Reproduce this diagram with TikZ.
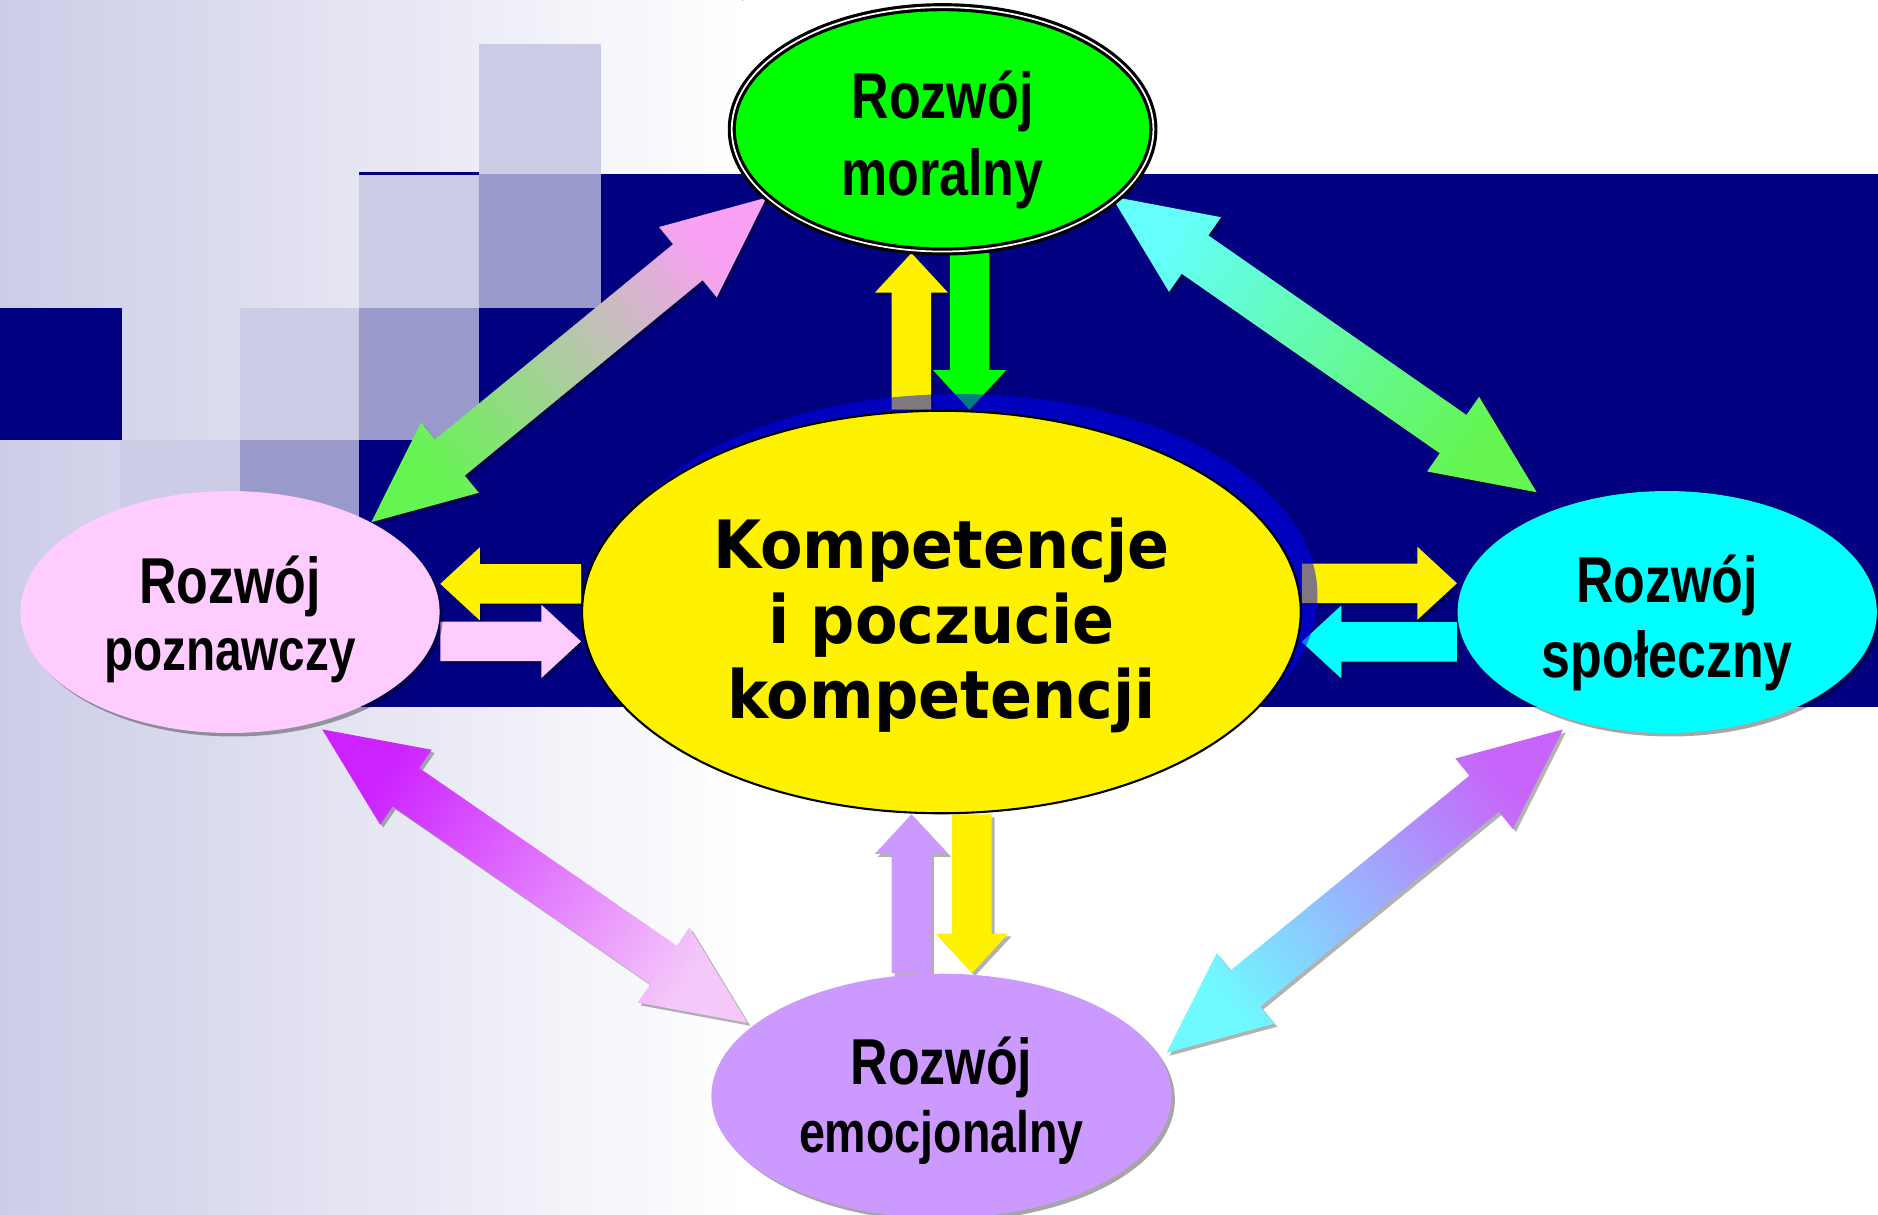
\documentclass[tikz,border=0pt]{standalone}
\usepackage{fontspec}
\newfontfamily\labelfont[FakeStretch=0.8]{Liberation Sans}
\newfontfamily\corefont[FakeStretch=0.93]{DejaVu Sans}
\usetikzlibrary{positioning,shapes,calc,shadows}

\definecolor{haze}{RGB}{204,204,232}
\definecolor{tile}{RGB}{204,204,230}
\definecolor{tiledark}{RGB}{153,153,204}
\definecolor{navy}{RGB}{0,0,128}
\definecolor{moralfill}{RGB}{0,255,0}
\definecolor{cognfill}{RGB}{255,204,255}
\definecolor{socfill}{RGB}{0,255,255}
\definecolor{emofill}{RGB}{204,153,255}
\definecolor{pinktop}{RGB}{250,160,245}
\definecolor{greenend}{RGB}{100,245,80}
\definecolor{cyantop}{RGB}{100,255,250}
\definecolor{magtop}{RGB}{204,34,255}
\definecolor{pinkend}{RGB}{245,200,250}
\definecolor{purptop}{RGB}{200,100,250}
\definecolor{cyanend}{RGB}{110,250,255}

\pgfdeclarelayer{back}
\pgfdeclarelayer{arrows}
\pgfsetlayers{back,arrows,main}

% fat double arrow between two points
\newcommand{\twoway}[3]{%
  \path[#1] (#2) -- ($(#2)!10.2mm!(#3)!4.56mm!90:(#3)$) -- ($(#2)!10.2mm!(#3)!2.34mm!90:(#3)$)
    -- ($(#3)!10.2mm!(#2)!2.34mm!-90:(#2)$) -- ($(#3)!10.2mm!(#2)!4.56mm!-90:(#2)$) -- (#3)
    -- ($(#3)!10.2mm!(#2)!4.56mm!90:(#2)$) -- ($(#3)!10.2mm!(#2)!2.34mm!90:(#2)$)
    -- ($(#2)!10.2mm!(#3)!2.34mm!-90:(#3)$) -- ($(#2)!10.2mm!(#3)!4.56mm!-90:(#3)$) -- cycle;}
% small block arrow, tail to tip
\newcommand{\oneway}[3]{%
  \path[#1] ($(#2)!1.98mm!90:(#3)$) -- ($(#3)!3.96mm!(#2)!1.98mm!-90:(#2)$)
    -- ($(#3)!3.96mm!(#2)!3.66mm!-90:(#2)$) -- (#3) -- ($(#3)!3.96mm!(#2)!3.66mm!90:(#2)$)
    -- ($(#3)!3.96mm!(#2)!1.98mm!90:(#2)$) -- ($(#2)!1.98mm!-90:(#3)$) -- cycle;}

\begin{document}
\begin{tikzpicture}[x=0.12mm, y=-0.12mm,
    outer/.style={ellipse, inner sep=0pt, minimum width=42mm, minimum height=24.24mm},
    glow/.style={drop shadow={shadow xshift=0.35mm, shadow yshift=-0.35mm, opacity=0.35, fill=black}},
    core/.style={ellipse, inner sep=0pt, minimum width=72mm, minimum height=40.32mm,
      fill=yellow, draw=black, line width=0.6pt},
    words/.style={inner sep=0pt, align=center, font=\labelfont\bfseries\fontsize{18.5}{#1}\selectfont},
    edgeshadow/.style={preaction={fill=black, fill opacity=0.3, transform canvas={shift={(0.3mm,-0.3mm)}}}},
    smallarrow/.style={edgeshadow, fill=#1},
    pmshade/.style={edgeshadow, top color=pinktop, bottom color=greenend, shading angle=-50.5},
    msshade/.style={edgeshadow, top color=cyantop, bottom color=greenend, shading angle=55.2},
    peshade/.style={edgeshadow, top color=magtop, bottom color=pinkend, shading angle=55.8},
    seshade/.style={edgeshadow, top color=purptop, bottom color=cyanend, shading angle=-50.9}
  ]
  \useasboundingbox (0,0) rectangle (1568,1014);

  % ellipses
  \node[core] (cen) at (786,511) {};
  \node[outer, fill=moralfill, draw=black, line width=0.9pt, double=white, double distance=0.5pt,
    minimum width=42.24mm, minimum height=24.48mm] (mor) at (787,108) {};
  \node[outer, glow, fill=cognfill] (poz) at (192,511) {};
  \node[outer, glow, fill=socfill] (spo) at (1392,511) {};
  \node[outer, glow, fill=emofill, minimum width=46.08mm, minimum height=24.48mm] (emo) at (786,915) {};

  % texts
  \node[inner sep=0pt, align=center, font=\corefont\bfseries\fontsize{19}{21.4}\selectfont] (centext)
    at ($(cen.center)+(0,11)$) {Kompetencje\\i poczucie\\kompetencji};
  \node[words=22] (mortext) at ($(mor.center)+(0,8.5)$) {Rozwój\\moralny};
  \node[words=19.2] (poztext) at ($(poz.center)+(0,6)$) {Rozwój\\{\fontsize{17}{19.2}\selectfont poznawczy}};
  \node[words=21.4] (spotext) at ($(spo.center)+(0,9)$) {Rozwój\\społeczny};
  \node[words=19.2] (emotext) at ($(emo.center)+(0,4)$) {Rozwój\\{\fontsize{16.6}{19.2}\selectfont emocjonalny}};

  % backdrop
  \begin{pgfonlayer}{back}
    \fill[left color=haze, right color=white] (0,0) rectangle (620,1014);
    \fill[tile] (400,37) rectangle (502,145);
    \fill[tile] (300,145) rectangle (400,257);
    \fill[tile] (200,257) rectangle (300,367);
    \fill[tile] (100,367) rectangle (200,477);
    \fill[tiledark] (400,145) rectangle (502,257);
    \fill[tiledark] (300,257) rectangle (400,367);
    \fill[tiledark] (200,367) rectangle (300,477);
    \fill[navy] (300,144) rectangle (400,146);
    \fill[navy] (502,145) rectangle (1568,590);
    \fill[navy] (400,257) rectangle (502,590);
    \fill[navy] (300,367) rectangle (400,590);
    \fill[navy] (0,257) rectangle (102,367);
  \end{pgfonlayer}

  % ends of the arrows
  \coordinate (pm1) at ($(poz.center)+(118,-75)$);
  \coordinate (pm2) at ($(mor.center)+(-147,57)$);
  \coordinate (ms1) at ($(mor.center)+(141,56)$);
  \coordinate (ms2) at ($(spo.center)+(-109,-100)$);
  \coordinate (pe1) at ($(poz.center)+(77,98)$);
  \coordinate (pe2) at ($(emo.center)+(-162,-61)$);
  \coordinate (se1) at ($(spo.center)+(-87,98)$);
  \coordinate (se2) at ($(emo.center)+(188,-36)$);
  \coordinate (cm1) at ([xshift=-3mm]cen.north);
  \coordinate (cm2) at ([xshift=-3.12mm]mor.south);
  \coordinate (mc1) at ([xshift=2.7mm]mor.south);
  \coordinate (mc2) at ([xshift=2.82mm]cen.north);
  \coordinate (cp1) at ([yshift=2.82mm]cen.west);
  \coordinate (cp2) at ([yshift=2.82mm]poz.east);
  \coordinate (pc1) at ([yshift=-2.94mm]poz.east);
  \coordinate (pc2) at ([yshift=-2.94mm]cen.west);
  \coordinate (cs1) at ([yshift=2.88mm]cen.east);
  \coordinate (cs2) at ([yshift=2.88mm]spo.west);
  \coordinate (sc1) at ([yshift=-3mm]spo.west);
  \coordinate (sc2) at ([yshift=-3mm]cen.east);
  \coordinate (ec1) at ([xshift=-3mm]emo.north);
  \coordinate (ec2) at ([xshift=-3mm]cen.south);
  \coordinate (ce1) at ([xshift=3.06mm]cen.south);
  \coordinate (ce2) at ([xshift=3.06mm]emo.north);

  \begin{pgfonlayer}{arrows}
    \twoway{pmshade}{pm1}{pm2}
    \twoway{msshade}{ms1}{ms2}
    \twoway{peshade}{pe1}{pe2}
    \twoway{seshade}{se1}{se2}
    \oneway{smallarrow=yellow}{cm1}{cm2}
    \oneway{smallarrow=moralfill}{mc1}{mc2}
    \oneway{smallarrow=yellow}{cp1}{cp2}
    \oneway{smallarrow=cognfill}{pc1}{pc2}
    \oneway{smallarrow=yellow}{cs1}{cs2}
    \oneway{smallarrow=socfill}{sc1}{sc2}
    \oneway{smallarrow=emofill}{ec1}{ec2}
    \oneway{smallarrow=yellow}{ce1}{ce2}
    \fill[blue, opacity=0.5] ($(cen.center)+(14,-14)$) ellipse [x radius=36mm, y radius=20.16mm];
  \end{pgfonlayer}
\end{tikzpicture}
\end{document}
